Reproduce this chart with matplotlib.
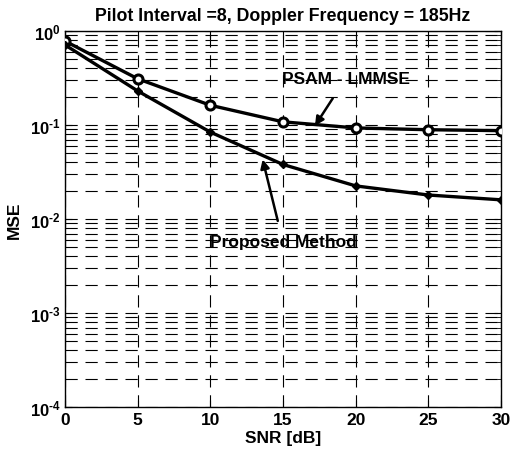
import matplotlib
matplotlib.use("Agg")
import matplotlib.pyplot as plt
import numpy as np
from matplotlib.ticker import LogLocator, NullFormatter

snr = [0, 5, 10, 15, 20, 25, 30]
psam_lmmse = [0.78, 0.31, 0.162, 0.108, 0.093, 0.089, 0.087]
proposed = [0.71, 0.23, 0.084, 0.038, 0.0225, 0.018, 0.016]
x_ticks = [0, 5, 10, 15, 20, 25, 30]
y_ticks = [1e-4, 1e-3, 1e-2, 1e-1, 1]
y_exps = ['-4', '-3', '-2', '-1', '0']

plt.rcParams['font.family'] = ['Liberation Sans', 'DejaVu Sans']
plt.rcParams['font.weight'] = 'bold'
plt.rcParams['mathtext.fontset'] = 'custom'
plt.rcParams['mathtext.bf'] = 'Liberation Sans:bold'
plt.rcParams['mathtext.rm'] = 'Liberation Sans:bold'
plt.rcParams['mathtext.default'] = 'bf'

fig = plt.figure(figsize=(5.17, 4.56), dpi=100)
ax = fig.add_axes([0.1257, 0.105, 0.969 - 0.1257, 0.930 - 0.105])

ax.semilogy(snr, psam_lmmse, color='black', lw=2.4, marker='o', ms=6.5,
            mfc='white', mec='black', mew=2.2, zorder=3)
ax.semilogy(snr, proposed, color='black', lw=2.4, marker='D', ms=4,
            mfc='black', mec='black', zorder=3)

ax.set_xlim(0, 30)
ax.set_ylim(1e-4, 1)
ax.set_xticks(x_ticks)
ax.set_xticklabels([str(t) for t in x_ticks], fontsize=12.5, fontweight='bold')
ax.yaxis.set_minor_locator(LogLocator(base=10, subs=np.arange(2, 10), numticks=20))
ax.yaxis.set_minor_formatter(NullFormatter())
ax.set_yticks(y_ticks)
ax.set_yticklabels([r'$10^{\mathrm{%s}}$' % e.replace('-', '\u2010') for e in y_exps],
                   fontsize=12)
ax.tick_params(which='both', direction='in', top=True, right=True)
ax.tick_params(which='major', length=5)
ax.tick_params(which='minor', length=3)
ax.tick_params(axis='y', pad=3)

dash = (0, (11, 7))
ax.grid(True, which='major', axis='both', color='black', ls=dash, lw=0.8)
ax.grid(True, which='minor', axis='y', color='black', ls=dash, lw=0.8)

for s in ax.spines.values():
    s.set_linewidth(1.0)

ax.set_title('Pilot Interval =8, Doppler Frequency = 185Hz', fontsize=12.8,
             fontweight='bold', pad=8)
ax.set_xlabel('SNR [dB]', fontsize=12.5, fontweight='bold', labelpad=2)
ax.set_ylabel('MSE', fontsize=12.5, fontweight='bold', labelpad=6)

ax.annotate('PSAM - LMMSE', xy=(17.2, 0.098), xytext=(19.3, 0.31),
            textcoords='data', ha='center', va='center', fontsize=12.5,
            fontweight='bold',
            arrowprops=dict(arrowstyle='-|>', color='black', lw=1.8,
                            shrinkA=8, shrinkB=0, mutation_scale=13))
ax.annotate('Proposed Method', xy=(13.6, 0.043), xytext=(15.0, 0.0057),
            textcoords='data', ha='center', va='center', fontsize=12.5,
            fontweight='bold',
            arrowprops=dict(arrowstyle='-|>', color='black', lw=1.8,
                            shrinkA=8, shrinkB=0, mutation_scale=13))

fig.savefig('out.png', dpi=100)
